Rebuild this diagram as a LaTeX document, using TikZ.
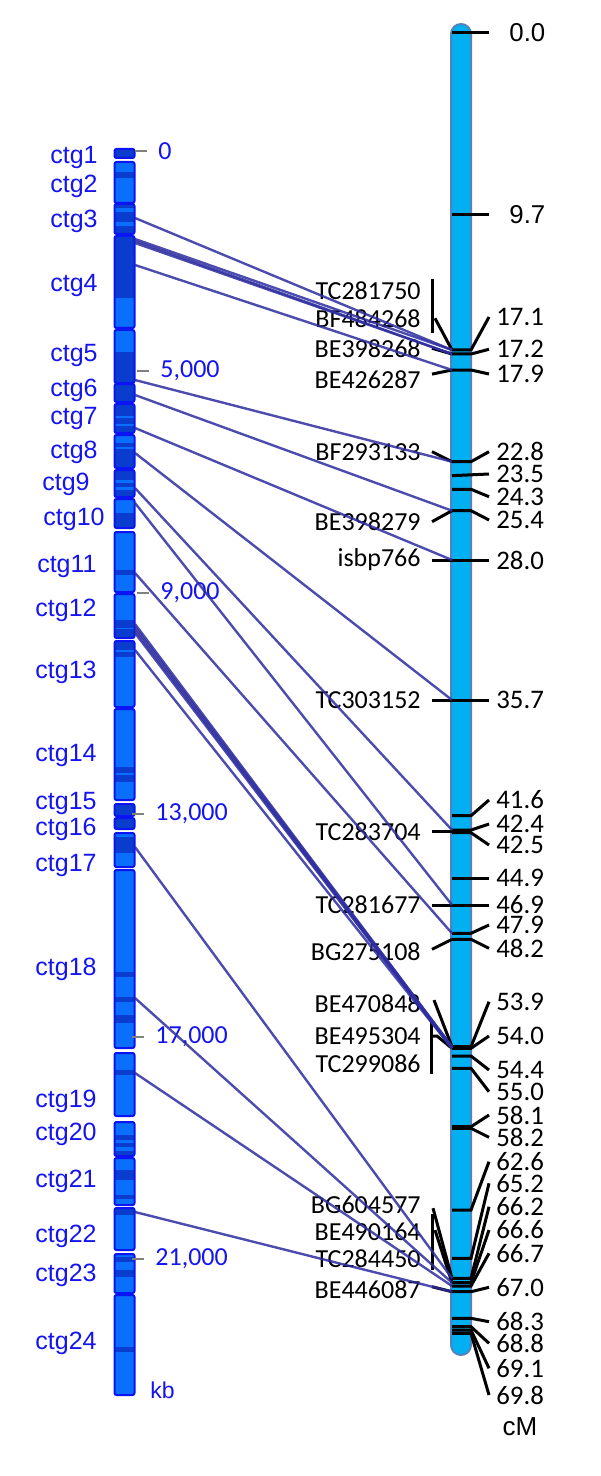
\documentclass[tikz,border=0pt]{standalone}
\usepackage{fontspec}
\setmainfont{Liberation Sans}
\newfontfamily\calibri{Carlito}
\usepackage{tikz}

\definecolor{ctglight}{RGB}{10,110,255}
\definecolor{ctgdark}{RGB}{10,60,205}
\definecolor{ctgedge}{RGB}{10,20,245}
\definecolor{labblue}{RGB}{20,20,240}
\definecolor{chrfill}{RGB}{0,176,240}
\definecolor{chredge}{RGB}{85,130,190}
\definecolor{linkblue}{RGB}{45,45,160}

\tikzset{
  ctglab/.style={text=labblue,anchor=east,inner sep=0pt,font=\fontsize{12.5}{14}\selectfont},
  kblab/.style={text=labblue,anchor=west,inner sep=0pt,font=\calibri\fontsize{13}{15}\selectfont},
  kbtick/.style={draw=gray,line width=1.3pt},
  cmlab/.style={anchor=west,inner sep=0pt,font=\calibri\fontsize{13.4}{15}\selectfont},
  mklab/.style={anchor=east,inner sep=0pt,font=\calibri\fontsize{13}{15}\selectfont},
  lead/.style={line width=1.5pt},
  link/.style={draw=linkblue,line width=1.2pt,opacity=.85},
  chrbar/.style={fill=chrfill,draw=chredge,line width=1pt,rounded corners=5pt}
}

\begin{document}
\begin{tikzpicture}[x=0.5pt,y=-0.5pt]
    \useasboundingbox (0,0) rectangle (600,1476);

    % contig bar
    \foreach \a/\b in {149/158,162/203,204/234,236/328,330/383,384/402,404/433,435/468,470/497,499/528,532/592,594/638,641/707,709/800,804/816,818/829,833/867,870/1048,1053/1116,1122/1156,1158/1205,1208/1250,1254/1293,1295/1395}
        \fill[ctglight] (114,\a) rectangle (135,\b);
    \foreach \a/\b in {149/158,172/178,204/208,212/222,226/234,236/298,352/383,384/402,404/416,418/424,426/433,443/447,449/468,470/480,483/487,490/497,513/528,570/575,620/628,629/638,641/650,652/657,767/773,775/782,804/816,818/829,837/853,972/977,997/1002,1015/1023,1070/1075,1135/1140,1143/1147,1151/1156,1170/1180,1195/1199,1209/1215,1257/1262,1270/1277,1347/1352}
        \fill[ctgdark] (114,\a) rectangle (135,\b);
    \foreach \a/\b in {149/158,162/203,204/234,236/328,330/383,384/402,404/433,435/468,470/497,499/528,532/592,594/638,641/707,709/800,804/816,818/829,833/867,870/1048,1053/1116,1122/1156,1158/1205,1208/1250,1254/1293,1295/1395}
        \draw[ctgedge,line width=1pt,rounded corners=1pt] (114.5,\a) rectangle (134.5,\b);

    \node[ctglab] (c1) at (98,157) {ctg1};
    \node[ctglab] (c2) at (98,186) {ctg2};
    \node[ctglab] (c3) at (98,221) {ctg3};
    \node[ctglab] (c4) at (98,285) {ctg4};
    \node[ctglab] (c5) at (98,355) {ctg5};
    \node[ctglab] (c6) at (98,390) {ctg6};
    \node[ctglab] (c7) at (98,418) {ctg7};
    \node[ctglab] (c8) at (98,452) {ctg8};
    \node[ctglab] (c9) at (90,484) {ctg9};
    \node[ctglab] (c10) at (105,519) {ctg10};
    \node[ctglab] (c11) at (97,566) {ctg11};
    \node[ctglab] (c12) at (97,610) {ctg12};
    \node[ctglab] (c13) at (97,672) {ctg13};
    \node[ctglab] (c14) at (97,755) {ctg14};
    \node[ctglab] (c15) at (97,803) {ctg15};
    \node[ctglab] (c16) at (97,829) {ctg16};
    \node[ctglab] (c17) at (97,865) {ctg17};
    \node[ctglab] (c18) at (97,969) {ctg18};
    \node[ctglab] (c19) at (97,1101) {ctg19};
    \node[ctglab] (c20) at (97,1134) {ctg20};
    \node[ctglab] (c21) at (97,1181) {ctg21};
    \node[ctglab] (c22) at (97,1236) {ctg22};
    \node[ctglab] (c23) at (97,1275) {ctg23};
    \node[ctglab] (c24) at (97,1343) {ctg24};

    % kb scale
    \node[kblab] (s0) at (158,151) {0};
    \node[kblab] (s5) at (160,371) {5,000};
    \node[kblab] (s9) at (160,593) {9,000};
    \node[kblab] (s13) at (155,814) {13,000};
    \node[kblab] (s17) at (155,1037) {17,000};
    \node[kblab] (s21) at (155,1259) {21,000};
    \node[kblab,font=\fontsize{11.5}{13}\selectfont] (kb) at (150,1390) {kb};
    \foreach \s in {s0,s5,s9,s13,s17,s21}
        \draw[kbtick] ([xshift=-5.5pt]\s.west) -- ++(-12,0);

    % linkage group
    \draw[chrbar] (451,24) rectangle (471,1355);

    \coordinate (t00) at (452,33);
    \coordinate (t97) at (452,215);
    \coordinate (t171) at (452,350);
    \coordinate (t172) at (452,354);
    \coordinate (t179) at (452,370);
    \coordinate (t228) at (452,461.7);
    \coordinate (t235) at (452,475.7);
    \coordinate (t243) at (452,489.3);
    \coordinate (t254) at (452,510.7);
    \coordinate (t280) at (452,560);
    \coordinate (t357) at (452,700);
    \coordinate (t416) at (452,815.7);
    \coordinate (t424) at (452,830);
    \coordinate (t425) at (452,832.7);
    \coordinate (t449) at (452,878.3);
    \coordinate (t469) at (452,905);
    \coordinate (t479) at (452,933.3);
    \coordinate (t482) at (452,939.3);
    \coordinate (t539) at (452,1046.7);
    \coordinate (t540) at (452,1048.3);
    \coordinate (t544) at (452,1056);
    \coordinate (t550) at (452,1068.3);
    \coordinate (t581) at (452,1126.7);
    \coordinate (t582) at (452,1128.3);
    \coordinate (t626) at (452,1210);
    \coordinate (t652) at (452,1258.3);
    \coordinate (t662) at (452,1278.3);
    \coordinate (t666) at (452,1282.7);
    \coordinate (t667) at (452,1286);
    \coordinate (t670) at (452,1291.7);
    \coordinate (t683) at (452,1318.3);
    \coordinate (t688) at (452,1326.7);
    \coordinate (t691) at (452,1330);
    \coordinate (t698) at (452,1333.3);

    \node[cmlab,font=\fontsize{12.9}{14}\selectfont] (n00) at (509,33) {0.0};
    \node[cmlab,font=\fontsize{12.9}{14}\selectfont] (n97) at (509,215) {9.7};
    \node[cmlab] (n171) at (496,317) {17.1};
    \node[cmlab] (n172) at (496,349.3) {17.2};
    \node[cmlab] (n179) at (496,374) {17.9};
    \node[cmlab] (n228) at (496,451.7) {22.8};
    \node[cmlab] (n235) at (496,474) {23.5};
    \node[cmlab] (n243) at (496,496.7) {24.3};
    \node[cmlab] (n254) at (496,520) {25.4};
    \node[cmlab] (n280) at (496,560) {28.0};
    \node[cmlab] (n357) at (496,700) {35.7};
    \node[cmlab] (n416) at (496,800) {41.6};
    \node[cmlab] (n424) at (496,824) {42.4};
    \node[cmlab] (n425) at (496,845) {42.5};
    \node[cmlab] (n449) at (496,878.3) {44.9};
    \node[cmlab] (n469) at (496,905) {46.9};
    \node[cmlab] (n479) at (496,925) {47.9};
    \node[cmlab] (n482) at (496,948.3) {48.2};
    \node[cmlab] (n539) at (496,1001.7) {53.9};
    \node[cmlab] (n540) at (496,1036) {54.0};
    \node[cmlab] (n544) at (496,1070) {54.4};
    \node[cmlab] (n550) at (496,1091.7) {55.0};
    \node[cmlab] (n581) at (496,1115) {58.1};
    \node[cmlab] (n582) at (496,1137.3) {58.2};
    \node[cmlab] (n626) at (496,1161.7) {62.6};
    \node[cmlab] (n652) at (496,1183.3) {65.2};
    \node[cmlab] (n662) at (496,1206.7) {66.2};
    \node[cmlab] (n666) at (496,1230) {66.6};
    \node[cmlab] (n667) at (496,1253.3) {66.7};
    \node[cmlab] (n670) at (496,1287.3) {67.0};
    \node[cmlab] (n683) at (496,1321.7) {68.3};
    \node[cmlab] (n688) at (496,1343.3) {68.8};
    \node[cmlab] (n691) at (496,1368.3) {69.1};
    \node[cmlab] (n698) at (496,1395) {69.8};
    \node[font=\fontsize{13}{15}\selectfont] (cm) at (520,1427) {cM};

    \draw[lead] (t00) -- ([xshift=-10pt]n00.west);
    \draw[lead] (t97) -- ([xshift=-10pt]n97.west);
    \draw[lead] (t235) -- ([xshift=-3.5pt]n235.west);
    \draw[lead] (t449) -- ([xshift=-3.5pt]n449.west);
    \foreach \t in {171,172,179,228,243,254,416,424,425,479,482,539,540,544,550,581,582,626,652,662,666,667,670,683,688,691,698}
        \draw[lead] (t\t) -- ++(19,0) -- ([xshift=-3.5pt]n\t.west);

    % markers
    \node[mklab] (tc281750) at (421,290.7) {TC281750};
    \node[mklab] (bf484268) at (421,318.3) {BF484268};
    \node[mklab] (be398268) at (421,348.3) {BE398268};
    \node[mklab] (be426287) at (421,379.3) {BE426287};
    \node[mklab] (bf293133) at (421,451.7) {BF293133};
    \node[mklab] (be398279) at (421,521.7) {BE398279};
    \node[mklab] (isbp766) at (421,560) {isbp766};
    \node[mklab] (tc303152) at (421,700) {TC303152};
    \node[mklab] (tc283704) at (421,831.7) {TC283704};
    \node[mklab] (tc281677) at (421,905) {TC281677};
    \node[mklab] (bg275108) at (421,951.7) {BG275108};
    \node[mklab] (be470848) at (421,1003.3) {BE470848};
    \node[mklab] (be495304) at (421,1036) {BE495304};
    \node[mklab] (tc299086) at (421,1063.3) {TC299086};
    \node[mklab] (bg604577) at (421,1205) {BG604577};
    \node[mklab] (be490164) at (421,1231.7) {BE490164};
    \node[mklab] (tc284450) at (421,1258.3) {TC284450};
    \node[mklab] (be446087) at (421,1289.3) {BE446087};

    \draw[lead] ([xshift=5.5pt,yshift=6pt]tc281750.east) -- ([xshift=5.5pt,yshift=-21pt]tc281750.east);
    \draw[lead] ([xshift=7pt]bf484268.east) -- (t171);
    \draw[lead] ([xshift=5.5pt]be398268.east) -- (t172);
    \draw[lead] ([xshift=5.5pt,yshift=2.6pt]be426287.east) -- (t179);
    \draw[lead] ([xshift=5.5pt]bf293133.east) -- (t228);
    \draw[lead] ([xshift=5.5pt]be398279.east) -- (t254);
    \draw[lead] ([xshift=5.5pt]isbp766.east) -- ([xshift=-3.5pt]n280.west);
    \draw[lead] ([xshift=5.5pt]tc303152.east) -- ([xshift=-3.5pt]n357.west);
    \draw[lead] ([xshift=5.5pt]tc283704.east) -- ++(20,0);
    \draw[lead] ([xshift=5.5pt]tc281677.east) -- ([xshift=-3.5pt]n469.west);
    \draw[lead] ([xshift=5.5pt,yshift=1.2pt]bg275108.east) -- (t482);
    \draw[lead] ([xshift=6.5pt,yshift=1.6pt]be470848.east) -- (t539);
    \draw[lead] ([xshift=5pt,yshift=8pt]be495304.east) -- ([xshift=5pt,yshift=-19pt]be495304.east);
    \draw[lead] ([xshift=5.5pt]be495304.east) -- ++(5,0) -- (t540);
    \draw[lead] ([xshift=6pt,yshift=-1.6pt]bg604577.east) -- (t662);
    \draw[lead] ([xshift=5.5pt,yshift=9pt]be490164.east) -- ([xshift=5.5pt,yshift=-19pt]be490164.east);
    \draw[lead] ([xshift=7pt,yshift=0.8pt]be490164.east) -- (t666);
    \draw[lead] ([xshift=5.5pt,yshift=1.3pt]be446087.east) -- (t670);

    % links between contigs and loci
    \coordinate (k3) at (135,218);
    \coordinate (k4a) at (135,239);
    \coordinate (k4b) at (135,241);
    \coordinate (k4c) at (135,243);
    \coordinate (k4d) at (135,265);
    \coordinate (k5) at (135,380);
    \coordinate (k6) at (135,395);
    \coordinate (k7) at (135,428);
    \coordinate (k8) at (135,453);
    \coordinate (k9) at (135,488);
    \coordinate (k10) at (135,503);
    \coordinate (k11) at (135,573);
    \coordinate (k12a) at (135,624);
    \coordinate (k12b) at (135,627);
    \coordinate (k12c) at (135,630);
    \coordinate (k12d) at (135,633);
    \coordinate (k13) at (135,650);
    \coordinate (k17) at (135,847);
    \coordinate (k18) at (135,998);
    \coordinate (k19) at (135,1073);
    \coordinate (k22) at (135,1212);

    \draw[link] (k3) -- (t171);
    \draw[link] (k4a) -- (t171);
    \draw[link] (k4b) -- (t172);
    \draw[link] (k4c) -- (t172);
    \draw[link] (k4d) -- (t179);
    \draw[link] (k5) -- (t228);
    \draw[link] (k6) -- (t254);
    \draw[link] (k7) -- (t280);
    \draw[link] (k8) -- (t357);
    \draw[link] (k9) -- (t424);
    \draw[link] (k10) -- (t469);
    \draw[link] (k11) -- (t479);
    \draw[link] (k12a) -- (t539);
    \draw[link] (k12b) -- (t539);
    \draw[link] (k12c) -- (t540);
    \draw[link] (k12d) -- (t540);
    \draw[link] (k13) -- (t540);
    \draw[link] (k17) -- (t662);
    \draw[link] (k18) -- (t666);
    \draw[link] (k19) -- (t667);
    \draw[link] (k22) -- (t670);
\end{tikzpicture}
\end{document}
